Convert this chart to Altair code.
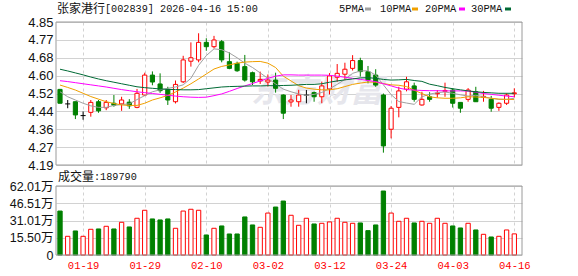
import altair as alt
import pandas as pd

# ---------------- data ----------------
dates = ["01-14","01-15","01-16","01-19","01-20","01-21","01-22","01-23","01-26","01-27",
         "01-28","01-29","01-30","02-02","02-03","02-04","02-05","02-06","02-09","02-10",
         "02-11","02-12","02-13","02-24","02-25","02-26","02-27","03-02","03-03","03-04",
         "03-05","03-06","03-09","03-10","03-11","03-12","03-13","03-16","03-17","03-18",
         "03-19","03-20","03-23","03-24","03-25","03-26","03-27","03-30","03-31","04-01",
         "04-02","04-03","04-07","04-08","04-09","04-10","04-13","04-14","04-15","04-16"]

opens = [4.539,4.472,4.482,4.418,4.433,4.482,4.454,4.475,4.472,4.480,
         4.456,4.513,4.605,4.564,4.539,4.482,4.574,4.669,4.675,4.756,
         4.736,4.759,4.667,4.659,4.644,4.616,4.578,4.573,4.582,4.513,
         4.481,4.482,4.513,4.524,4.505,4.541,4.595,4.609,4.636,4.672,
         4.621,4.605,4.513,4.355,4.456,4.540,4.555,4.467,4.505,4.519,
         4.530,4.536,4.479,4.493,4.528,4.503,4.493,4.456,4.475,4.519]
closes = [4.475,4.472,4.421,4.418,4.479,4.440,4.479,4.466,4.490,4.463,
          4.521,4.605,4.573,4.533,4.490,4.562,4.675,4.685,4.756,4.736,
          4.767,4.675,4.636,4.625,4.582,4.574,4.585,4.582,4.544,4.429,
          4.490,4.513,4.513,4.505,4.555,4.601,4.613,4.632,4.672,4.621,
          4.582,4.559,4.278,4.452,4.532,4.574,4.493,4.493,4.493,4.522,
          4.534,4.475,4.452,4.536,4.482,4.507,4.452,4.475,4.513,4.523]
highs = [4.541,4.490,4.482,4.437,4.490,4.490,4.490,4.513,4.505,4.494,
         4.541,4.616,4.622,4.613,4.551,4.580,4.694,4.756,4.798,4.775,
         4.786,4.767,4.710,4.667,4.698,4.621,4.621,4.608,4.616,4.516,
         4.513,4.537,4.536,4.529,4.575,4.614,4.656,4.662,4.697,4.685,
         4.647,4.632,4.520,4.462,4.551,4.597,4.570,4.528,4.526,4.536,
         4.570,4.545,4.479,4.545,4.551,4.532,4.509,4.479,4.521,4.544]
lows = [4.475,4.452,4.402,4.399,4.413,4.431,4.443,4.459,4.440,4.449,
        4.452,4.509,4.558,4.523,4.467,4.474,4.568,4.644,4.664,4.717,
        4.728,4.664,4.632,4.620,4.575,4.559,4.564,4.552,4.524,4.402,
        4.459,4.459,4.475,4.482,4.475,4.516,4.574,4.581,4.626,4.598,
        4.567,4.551,4.247,4.313,4.410,4.530,4.482,4.464,4.482,4.501,
        4.505,4.455,4.431,4.482,4.482,4.482,4.436,4.440,4.467,4.502]

# volume in 万 (10k shares)
volumes_wan = [39.5,16.8,21.6,16.8,23.1,23.4,25.8,23.4,29.4,25.2,
               33.0,40.2,32.4,31.5,32.4,24.0,39.5,41.1,40.2,18.0,
               24.0,26.1,18.9,18.9,34.2,27.0,24.9,37.7,43.1,48.5,
               35.7,26.7,33.0,27.9,28.5,29.7,33.0,29.4,28.5,28.8,
               21.9,27.0,57.5,37.7,30.3,33.0,28.8,30.3,28.5,33.0,
               28.5,26.1,24.3,28.5,22.5,18.6,16.2,16.8,22.5,18.979]
vol_dir = ["d","u","d","u","u","d","u","d","u","d",
           "u","u","d","d","d","u","u","u","u","d",
           "u","d","d","d","d","d","u","u","d","d",
           "u","u","u","d","u","u","u","u","u","d",
           "d","d","d","u","u","u","d","u","u","u",
           "u","d","d","u","d","u","d","u","u","u"]

ma5 = [4.528,4.505,4.490,4.475,4.463,4.456,4.456,4.465,4.469,4.472,
       4.492,4.510,4.528,4.537,4.544,4.550,4.560,4.590,4.650,4.695,
       4.726,4.722,4.707,4.685,4.660,4.640,4.615,4.590,4.564,4.540,
       4.528,4.518,4.512,4.516,4.525,4.542,4.562,4.585,4.613,4.624,
       4.625,4.605,4.560,4.515,4.483,4.476,4.470,4.505,4.517,4.524,
       4.527,4.521,4.514,4.508,4.512,4.505,4.498,4.493,4.493,4.498]
ma10 = [4.559,4.548,4.536,4.521,4.506,4.494,4.482,4.474,4.467,4.465,
        4.465,4.475,4.490,4.500,4.511,4.527,4.545,4.565,4.587,4.610,
        4.633,4.645,4.652,4.660,4.665,4.667,4.668,4.660,4.640,4.600,
        4.578,4.556,4.545,4.540,4.537,4.537,4.542,4.552,4.562,4.568,
        4.573,4.572,4.566,4.560,4.558,4.552,4.535,4.520,4.505,4.500,
        4.498,4.498,4.500,4.505,4.504,4.502,4.498,4.494,4.493,4.492]
ma20 = [4.579,4.575,4.570,4.565,4.560,4.555,4.550,4.544,4.538,4.533,
        4.528,4.524,4.520,4.516,4.512,4.508,4.505,4.503,4.502,4.503,
        4.510,4.518,4.530,4.543,4.555,4.566,4.578,4.590,4.600,4.606,
        4.606,4.605,4.605,4.605,4.605,4.604,4.600,4.595,4.590,4.585,
        4.580,4.575,4.565,4.555,4.545,4.538,4.536,4.534,4.533,4.533,
        4.532,4.532,4.532,4.531,4.526,4.520,4.516,4.512,4.508,4.505]
ma30 = [4.632,4.624,4.615,4.606,4.596,4.587,4.579,4.572,4.565,4.558,
        4.551,4.547,4.544,4.541,4.539,4.538,4.537,4.537,4.538,4.542,
        4.546,4.550,4.552,4.553,4.554,4.555,4.555,4.556,4.556,4.557,
        4.558,4.560,4.562,4.562,4.565,4.572,4.578,4.583,4.587,4.592,
        4.593,4.590,4.585,4.582,4.583,4.585,4.580,4.576,4.563,4.556,
        4.548,4.542,4.537,4.532,4.528,4.525,4.523,4.521,4.521,4.521]

ma_names = ["5PMA", "10PMA", "20PMA", "30PMA"]
ma_colors = ["#a0a0a0", "#f0a000", "#ff00ff", "#006a35"]

price_ticks = [4.19, 4.2725, 4.355, 4.4375, 4.52, 4.6025, 4.685, 4.7675, 4.85]
price_tick_labels = ["4.19", "4.27", "4.36", "4.44", "4.52", "4.60", "4.68", "4.77", "4.85"]
vol_ticks = [0, 155025, 310050, 465075, 620100]
vol_tick_labels = ["0", "15.50万", "31.01万", "46.51万", "62.01万"]
date_tick_idx = [3, 11, 19, 27, 35, 43, 51, 59]

stock_name = "张家港行"
stock_info = "[002839] 2026-04-16 15:00"
vol_label = "成交量"
vol_value = ":189790"
watermark = "东方财富"

# ---------------- build tables ----------------
UP, DOWN, FLAT = "#ff0000", "#008000", "#000000"
rows = []
for i in range(len(dates)):
    o, c = opens[i], closes[i]
    if c > o:
        col, fill = UP, "#ffffff"
    elif c < o:
        col, fill = DOWN, DOWN
    else:
        col, fill = FLAT, FLAT
    rows.append(dict(i=i, open=o, close=c, high=highs[i], low=lows[i], col=col, fill=fill))
candles = pd.DataFrame(rows)

vol_df = pd.DataFrame({
    "i": list(range(len(dates))),
    "vol": [v * 10000 for v in volumes_wan],
    "col": [UP if d == "u" else DOWN for d in vol_dir],
    "fill": ["#ffffff" if d == "u" else DOWN for d in vol_dir],
})

ma_rows = []
for name, color, vals in zip(ma_names, ma_colors, [ma5, ma10, ma20, ma30]):
    for i, v in enumerate(vals):
        ma_rows.append(dict(i=i, v=v, series=name, col=color))
ma_df = pd.DataFrame(ma_rows)
one = pd.DataFrame({"k": [0]})

# ---------------- scales / axes ----------------
X_LO, X_HI = -0.52, 60.0
x_scale = alt.Scale(domain=[X_LO, X_HI], nice=False, zero=False)
p_scale = alt.Scale(domain=[4.19, 4.85], nice=False, zero=False)
v_scale = alt.Scale(domain=[0, 620100], nice=False, zero=False)

date_arr = "[" + ",".join("'%s'" % d for d in dates) + "]"
p_lab_arr = "[" + ",".join("'%s'" % s for s in price_tick_labels) + "]"
v_lab_arr = "[" + ",".join("'%s'" % s for s in vol_tick_labels) + "]"

GRID = "#d2d2d2"
FRAME = "#9a9a9a"

p_axis = alt.Axis(values=price_ticks, labelExpr=p_lab_arr + "[round((datum.value-4.19)/0.0825)]",
                  grid=True, gridColor=GRID, domain=False, ticks=False, labelPadding=3,
                  labelFont="Liberation Sans", labelFontSize=13, labelColor="#111111",
                  labelFlush=False, labelOverlap=False, title=None)
v_axis = alt.Axis(values=vol_ticks, labelExpr=v_lab_arr + "[round(datum.value/155025)]",
                  grid=True, gridColor=GRID, domain=False, ticks=False, labelPadding=3,
                  labelFont="Liberation Sans, Noto Sans CJK SC", labelFontSize=12.5, labelColor="#111111",
                  labelFlush=False, labelOverlap=False, title=None)
xp_axis = alt.Axis(values=date_tick_idx, labels=False, grid=True, gridColor=GRID, gridDash=[3, 3],
                   domain=False, ticks=False, title=None)
xv_axis = alt.Axis(values=date_tick_idx, labelExpr=date_arr + "[datum.value]", grid=True,
                   gridColor=GRID, gridDash=[3, 3],
                   domain=False, ticks=False, labelPadding=5, labelFont="Liberation Mono",
                   labelFontSize=10.5, labelColor="#ff0000", labelFlush=False, labelOverlap=False,
                   title=None)

def text_layer(t, x, y, size, font, color="#000000", **kw):
    return alt.Chart(pd.DataFrame({"t": [t]})).mark_text(
        align="left", baseline="middle", fontSize=size, font=font, color=color, **kw
    ).encode(x=alt.value(x), y=alt.value(y), text="t:N")

def box(x0, x1, y0, y1, **kw):
    return alt.Chart(one).mark_rect(**kw).encode(
        x=alt.value(x0), x2=alt.value(x1), y=alt.value(y0), y2=alt.value(y1))

# ---------------- price panel ----------------
base_c = alt.Chart(candles)
PX = dict(scale=x_scale, axis=xp_axis)
PY = dict(scale=p_scale, axis=p_axis)

# transparent box covering the whole canvas, so the page size and origin are fixed
canvas = box(-56, 522, -22, 254, fill="#ffffff", fillOpacity=0, strokeOpacity=0)

wm = text_layer(watermark, 195, 70, 33, "Noto Sans CJK SC", "#e6e6ec", fontWeight="bold", fontStyle="italic")

wicks = base_c.mark_rule(strokeWidth=1).encode(
    x=alt.X("i:Q", **PX),
    y=alt.Y("low:Q", **PY),
    y2="high:Q",
    color=alt.Color("col:N", scale=None))

bodies = base_c.transform_filter("datum.open != datum.close").transform_calculate(
    xl="datum.i - 0.27", xr="datum.i + 0.27"
).mark_rect(strokeWidth=1).encode(
    x=alt.X("xl:Q", **PX), x2="xr:Q",
    y=alt.Y("open:Q", **PY), y2="close:Q",
    fill=alt.Fill("fill:N", scale=None),
    stroke=alt.Stroke("col:N", scale=None))

dojis = base_c.transform_filter("datum.open == datum.close").transform_calculate(
    xl="datum.i - 0.33", xr="datum.i + 0.33"
).mark_rule(strokeWidth=1).encode(
    x=alt.X("xl:Q", **PX), x2="xr:Q",
    y=alt.Y("close:Q", **PY),
    color=alt.Color("col:N", scale=None))

mas = alt.Chart(ma_df).mark_line(strokeWidth=1).encode(
    x=alt.X("i:Q", **PX),
    y=alt.Y("v:Q", **PY),
    detail="series:N",
    color=alt.Color("col:N", scale=None))

frame_p = box(0, 466, 0, 143, fill="#ffffff", fillOpacity=0, stroke=FRAME, strokeWidth=1)

title1 = text_layer(stock_name, 1, -13.5, 12, "Noto Sans CJK SC", "#111111")
title2 = text_layer(stock_info, 49, -13.5, 10.2, "Liberation Mono", "#111111")

legend_layers = []
leg_text_x = [283, 324, 369, 415]
leg_sw_x = [309, 356, 403, 449]
for name, color, tx, sx in zip(ma_names, ma_colors, leg_text_x, leg_sw_x):
    legend_layers.append(text_layer(name, tx, -13.5, 10.4, "Liberation Mono", "#111111"))
    legend_layers.append(box(sx, sx + 6, -14.5, -11.5, color=color))

price = alt.layer(canvas, wm, wicks, bodies, dojis, mas, frame_p,
                  title1, title2, *legend_layers).properties(width=466, height=143)

# ---------------- volume panel ----------------
vbars = alt.Chart(vol_df).transform_calculate(
    xl="datum.i - 0.28", xr="datum.i + 0.28", z="0"
).mark_rect(strokeWidth=1).encode(
    x=alt.X("xl:Q", scale=x_scale, axis=xv_axis), x2="xr:Q",
    y=alt.Y("vol:Q", scale=v_scale, axis=v_axis), y2="z:Q",
    fill=alt.Fill("fill:N", scale=None),
    stroke=alt.Stroke("col:N", scale=None))

frame_v = box(0, 466, 0, 69, fill="#ffffff", fillOpacity=0, stroke=FRAME, strokeWidth=1)

vtitle1 = text_layer(vol_label, 2, -9, 12, "Noto Sans CJK SC", "#111111")
vtitle2 = text_layer(vol_value, 38, -9, 10.2, "Liberation Mono", "#111111")

volume = alt.layer(vbars, frame_v, vtitle1, vtitle2).properties(width=466, height=69)

chart = alt.vconcat(price, volume, spacing=21, bounds="flush").properties(
    padding=0,
    autosize=alt.AutoSizeParams(type="pad"),
    background="#ffffff",
).configure_view(strokeWidth=0)

chart.save("out.html", embed_options={"renderer": "svg", "actions": False})
